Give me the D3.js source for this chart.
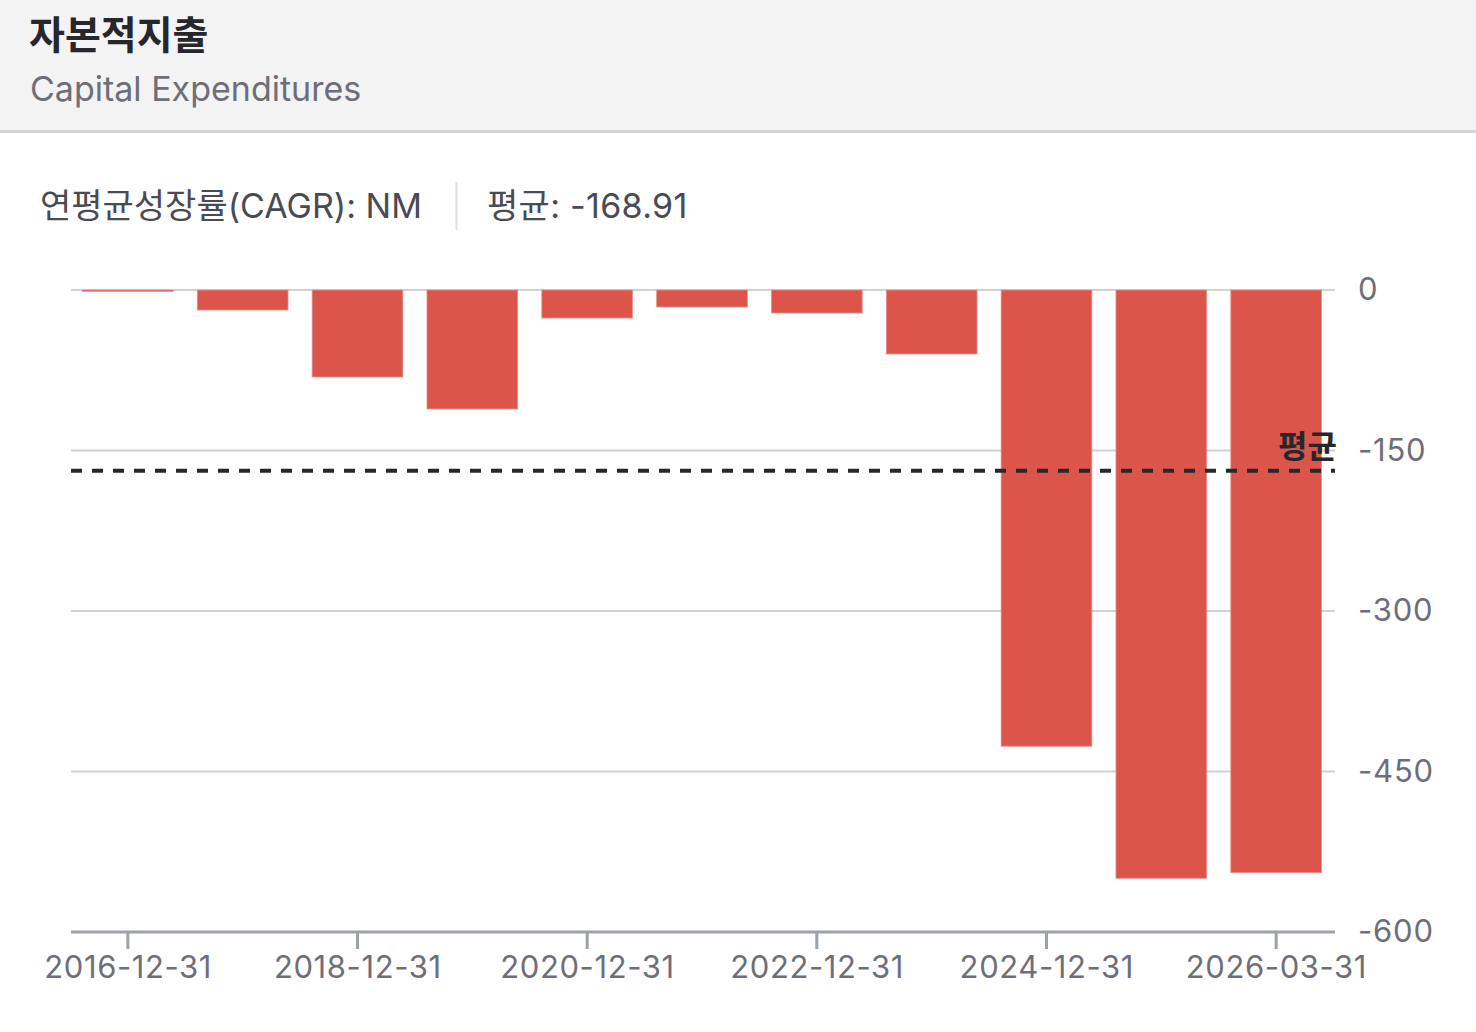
<!DOCTYPE html>
<html>
<head>
<meta charset="utf-8">
<script src="https://cdn.jsdelivr.net/npm/d3@7"></script>
<style>
  body { margin: 0; background: #fff; }
  svg text { font-family: Inter, "Noto Sans CJK KR", sans-serif; }
</style>
</head>
<body>
<svg id="chart" width="1476" height="1032"></svg>
<script>
// data
var periods = ["2016-12-31","2017-12-31","2018-12-31","2019-12-31","2020-12-31","2021-12-31",
               "2022-12-31","2023-12-31","2024-12-31","2025-12-31","2026-03-31"];
var capex = [-1.3, -18.7, -81.3, -111.2, -26.2, -15.9, -21.5, -59.8, -426.4, -549.8, -544.6];
var tickLabels = ["2016-12-31","2018-12-31","2020-12-31","2022-12-31","2024-12-31","2026-03-31"];
var yTicks = [0, -150, -300, -450, -600];
var average = -168.91;

var svg = d3.select("#chart");

// header block
svg.append("rect").attr("x", 0).attr("y", 0).attr("width", 1476).attr("height", 130).attr("fill", "#f3f3f3");
svg.append("line").attr("x1", 0).attr("x2", 1476).attr("y1", 131.5).attr("y2", 131.5)
    .attr("stroke", "#d3d3d7").attr("stroke-width", 3);
svg.append("text").attr("x", 29).attr("y", 49).attr("font-size", "39px").attr("font-weight", "bold")
    .attr("fill", "#26262b").text("자본적지출");
svg.append("text").attr("x", 30).attr("y", 101).attr("font-size", "34px")
    .attr("fill", "#6e6e78").text("Capital Expenditures");

// stats line
svg.append("text").attr("x", 40).attr("y", 218).attr("font-size", "34px")
    .attr("fill", "#4a4a53").text("연평균성장률(CAGR): NM");
svg.append("line").attr("x1", 456.5).attr("x2", 456.5).attr("y1", 182).attr("y2", 230)
    .attr("stroke", "#dedee0").attr("stroke-width", 2);
svg.append("text").attr("x", 487).attr("y", 218).attr("font-size", "34px")
    .attr("letter-spacing", "0.3px")
    .attr("fill", "#4a4a53").text("평균: " + average);

var xScale = d3.scaleBand().domain(periods).range([71, 1333]).paddingInner(0.21).paddingOuter(0.1),
    yScale = d3.scaleLinear().domain([-600, 0]).range([932, 290]);

// gridlines
svg.append("g").selectAll("line")
    .data(yTicks.filter(d => d !== -600))
    .enter().append("line")
    .attr("x1", 71).attr("x2", 1335)
    .attr("y1", d => yScale(d)).attr("y2", d => yScale(d))
    .attr("stroke", "#d2d2d2").attr("stroke-width", 2);

// bars
svg.append("g").selectAll("rect")
    .data(capex)
    .enter().append("rect")
    .attr("x", (d, i) => xScale(periods[i]))
    .attr("y", yScale(0))
    .attr("width", xScale.bandwidth())
    .attr("height", d => yScale(d) - yScale(0))
    .attr("fill", "#db554b")
    .attr("stroke", "#e8928b").attr("stroke-width", 0.8);

// y axis on the right
var yAxis = svg.append("g")
    .attr("transform", "translate(1358,0)")
    .call(d3.axisRight(yScale).tickValues(yTicks).tickSize(0).tickPadding(0).tickFormat(d => String(d)));
yAxis.select(".domain").remove();
yAxis.selectAll("text").attr("font-size", "31px").attr("fill", "#6e6e78")
    .attr("letter-spacing", "0.8px")
    .attr("font-family", "Inter, 'Noto Sans CJK KR', sans-serif");

// x axis
var xAxis = svg.append("g")
    .attr("transform", "translate(0,932)")
    .call(d3.axisBottom(xScale).tickValues(tickLabels).tickSize(17).tickPadding(7));
xAxis.select(".domain").attr("d", "M71,0H1335").attr("stroke", "#9da1a9").attr("stroke-width", 3);
xAxis.selectAll(".tick line").attr("stroke", "#9da1a9").attr("stroke-width", 3);
xAxis.selectAll("text").attr("font-size", "31px").attr("fill", "#6e6e78")
    .attr("letter-spacing", "0.6px").attr("dx", "0.3px")
    .attr("font-family", "Inter, 'Noto Sans CJK KR', sans-serif");

// average line
svg.append("line")
    .attr("x1", 71).attr("x2", 1335)
    .attr("y1", yScale(average)).attr("y2", yScale(average))
    .attr("stroke", "#26262b").attr("stroke-width", 4).attr("stroke-dasharray", "11,10");
svg.append("text")
    .attr("x", 1337).attr("y", yScale(average) - 13)
    .attr("text-anchor", "end").attr("font-size", "32px").attr("font-weight", "bold")
    .attr("fill", "#26262b").text("평균");
</script>
</body>
</html>
